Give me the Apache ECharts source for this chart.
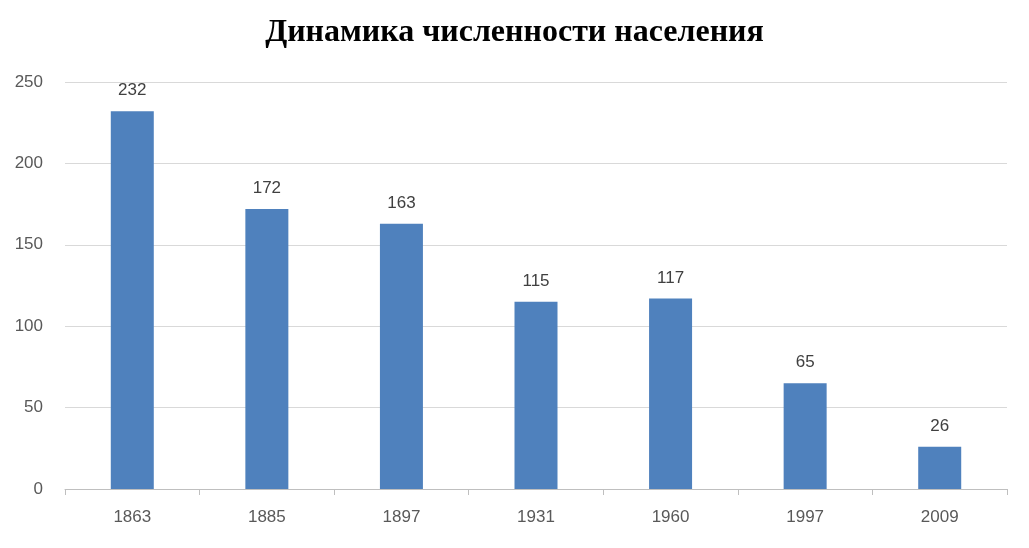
<!DOCTYPE html>
<html>
<head>
<meta charset="utf-8">
<script src="https://cdn.jsdelivr.net/npm/echarts@6/dist/echarts.min.js"></script>
<style>html,body{margin:0;padding:0;background:#fff}#main{width:1029px;height:548px}</style>
</head>
<body>
<div id="main"></div>
<script>
var years = ['1863', '1885', '1897', '1931', '1960', '1997', '2009'];
var population = [232, 172, 163, 115, 117, 65, 26];

var chart = echarts.init(document.getElementById('main'));
chart.setOption({
	animation: false,
	title: {
		text: 'Динамика численности населения',
		left: 'center',
		top: 12,
		textStyle: {
			fontFamily: 'Liberation Serif',
			fontWeight: 'bold',
			fontSize: 32,
			color: '#000'
		}
	},
	grid: { left: 65, right: 22, top: 82, bottom: 59 },
	xAxis: {
		type: 'category',
		data: years,
		axisLine: { lineStyle: { color: '#bfbfbf' } },
		axisTick: { show: true, length: 6, lineStyle: { color: '#bfbfbf' } },
		axisLabel: { color: '#595959', fontSize: 17, margin: 20, fontFamily: 'Liberation Sans' }
	},
	yAxis: {
		type: 'value',
		min: 0,
		max: 250,
		interval: 50,
		axisLine: { show: false },
		axisTick: { show: false },
		splitLine: { lineStyle: { color: '#d9d9d9' } },
		axisLabel: { color: '#595959', fontSize: 17, margin: 22, fontFamily: 'Liberation Sans' }
	},
	series: [{
		type: 'bar',
		data: population,
		barWidth: 43,
		itemStyle: { color: '#4f81bd' },
		label: {
			show: true,
			position: 'top',
			distance: 12,
			color: '#404040',
			fontSize: 17,
			fontFamily: 'Liberation Sans'
		}
	}]
});
</script>
</body>
</html>
